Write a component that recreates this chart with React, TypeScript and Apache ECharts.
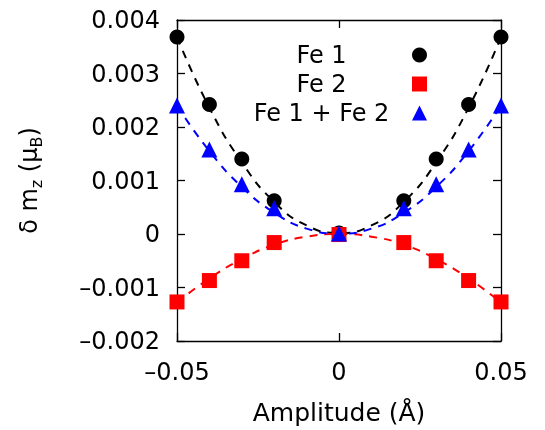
import React, { useEffect, useRef } from "react";
import * as echarts from "echarts";

const amplitudes = [-0.05, -0.04, -0.03, -0.02, 0, 0.02, 0.03, 0.04, 0.05];
const fe1 = [0.00368, 0.00242, 0.0014, 0.00062, 0.00002, 0.00062, 0.0014, 0.00242, 0.00368];
const fe2 = [-0.00127, -0.00087, -0.0005, -0.00016, -0.00001, -0.00016, -0.0005, -0.00087, -0.00127];
const feSum = [0.0024, 0.00158, 0.00093, 0.00048, 0.00001, 0.00048, 0.00093, 0.00158, 0.0024];

const fitX = [-0.05, -0.04, -0.03, -0.02, -0.01, 0, 0.01, 0.02, 0.03, 0.04, 0.05];
const fe1Fit = [0.00368, 0.00236, 0.00134, 0.0006, 0.00016, 0.00002, 0.00016, 0.0006, 0.00134, 0.00236, 0.00368];
const fe2Fit = [-0.00128, -0.00083, -0.00047, -0.0002, -0.00005, 0, -0.00005, -0.0002, -0.00047, -0.00083, -0.00128];
const feSumFit = [0.0024, 0.00155, 0.00088, 0.0004, 0.0001, 0.00001, 0.0001, 0.0004, 0.00088, 0.00155, 0.0024];

const seriesNames = ["Fe 1", "Fe 2", "Fe 1 + Fe 2"];
const colors = ["#000000", "#ff0000", "#0000ff"];
const symbols = ["circle", "rect", "triangle"];

const FONT = "DejaVu Sans";

function pairs(xs: number[], ys: number[]) {
  return xs.map((x, i) => [x, ys[i]]);
}

function fmt(v: number, digits: number) {
  if (Math.abs(v) < 1e-12) return "0";
  const s = Math.abs(v).toFixed(digits);
  return (v < 0 ? "\u2013" : "") + s;
}

export default function App() {
  const ref = useRef<HTMLDivElement>(null);
  useEffect(() => {
    if (!ref.current) return;
    const chart = echarts.init(ref.current, undefined, { renderer: "svg" });
    const axisLine = { show: true, onZero: false, lineStyle: { color: "#000", width: 1.3 } };
    const axisTick = { show: true, inside: true, length: 8, lineStyle: { color: "#000", width: 1.3 } };
    const fits = [fe1Fit, fe2Fit, feSumFit];
    const pts = [fe1, fe2, feSum];
    chart.setOption({
      animation: false,
      textStyle: { fontFamily: FONT, color: "#000" },
      grid: { left: 177, right: 44, top: 20, bottom: 87, containLabel: false },
      legend: {
        data: seriesNames,
        orient: "vertical",
        left: 231,
        top: 38,
        align: "right",
        itemWidth: 15,
        itemHeight: 15,
        itemGap: 5,
        selectedMode: false,
        formatter: "{c|{name}}",
        textStyle: {
          fontFamily: FONT,
          color: "#000",
          rich: { c: { width: 171, align: "center", fontSize: 24, lineHeight: 28, fontFamily: FONT, color: "#000" } },
        },
      },
      xAxis: [
        {
          type: "value",
          min: -0.05,
          max: 0.05,
          interval: 0.05,
          position: "bottom",
          axisLine,
          axisTick,
          splitLine: { show: false },
          axisLabel: {
            fontSize: 24,
            fontFamily: FONT,
            color: "#000",
            margin: 19,
            formatter: (v: number) => fmt(v, 2),
          },
          name: "Amplitude (\u00c5)",
          nameLocation: "middle",
          nameGap: 59,
          nameTextStyle: { fontSize: 25, fontFamily: FONT, color: "#000" },
        },
        {
          type: "value",
          min: -0.05,
          max: 0.05,
          interval: 0.05,
          position: "top",
          axisLine,
          axisTick,
          splitLine: { show: false },
          axisLabel: { show: false },
        },
      ],
      yAxis: [
        {
          type: "value",
          min: -0.002,
          max: 0.004,
          interval: 0.001,
          position: "left",
          axisLine,
          axisTick,
          splitLine: { show: false },
          axisLabel: {
            fontSize: 24,
            fontFamily: FONT,
            color: "#000",
            margin: 17,
            formatter: (v: number) => fmt(v, 3),
          },
          name: "{a|\u03b4 m}{s|z}{a| (\u03bc}{s|B}{a|)}",
          nameLocation: "middle",
          nameGap: 133,
          nameTextStyle: {
            fontFamily: FONT,
            color: "#000",
            rich: {
              a: { fontSize: 24, lineHeight: 30, fontFamily: FONT, color: "#000", verticalAlign: "middle" },
              s: { fontSize: 16, lineHeight: 16, fontFamily: FONT, color: "#000", verticalAlign: "bottom" },
            },
          },
        },
        {
          type: "value",
          min: -0.002,
          max: 0.004,
          interval: 0.001,
          position: "right",
          axisLine,
          axisTick,
          splitLine: { show: false },
          axisLabel: { show: false },
        },
      ],
      series: [
        ...fits.map((f, i) => ({
          name: seriesNames[i] + " fit",
          type: "line",
          data: pairs(fitX, f),
          smooth: 0.5,
          symbol: "none",
          silent: true,
          lineStyle: { color: colors[i], width: 2, type: [8, 7] },
          z: 1,
        })),
        ...pts.map((p, i) => ({
          name: seriesNames[i],
          type: "scatter",
          data: pairs(amplitudes, p),
          symbol: symbols[i],
          symbolSize: i === 2 ? 16 : 15,
          itemStyle: { color: colors[i], opacity: 1 },
          z: 2 + i,
        })),
      ],
    });
    return () => chart.dispose();
  }, []);
  return <div ref={ref} style={{ position: "fixed", left: 0, top: 0, width: 545, height: 430 }} />;
}
